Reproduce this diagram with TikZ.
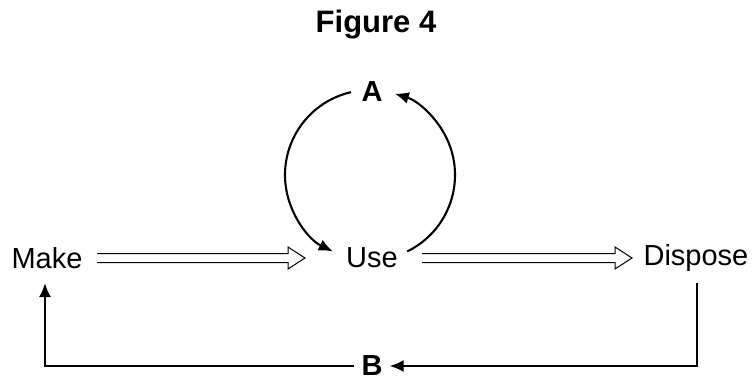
\documentclass[tikz,border=0pt]{standalone}
\usepackage{fontspec}
\setmainfont{Liberation Sans}
\usetikzlibrary{arrows.meta,calc}
\begin{document}
\begin{tikzpicture}[x=1pt,y=-1pt,
  lbl/.style={inner sep=0pt,font=\fontsize{29}{32}\selectfont},
  blbl/.style={inner sep=0pt,font=\fontsize{29}{32}\selectfont\bfseries},
  loopline/.style={line width=2.1pt,-{Latex[length=14pt,width=12pt]}},
  dbl/.style={line width=1pt,line join=miter}]
\useasboundingbox (0,0) rectangle (753,381);
\node[blbl,font=\fontsize{31}{34}\selectfont\bfseries] (title) at (376,25) {Figure 4};
\node[lbl] (make) at (47,258) {Make};
\node[lbl] (use) at (372,258) {Use};
\node[lbl] (dispose) at (696,258) {Dispose};
\node[blbl] (A) at (372,92) {A};
\node[blbl] (B) at (372,366) {B};
% circle arcs
\coordinate (cc) at (370,175);
\draw[loopline] ($(cc)+(103:85 and -85)$) arc[start angle=103,end angle=244,x radius=85,y radius=-85];
\draw[loopline] ($(cc)+(-64:85 and -85)$) arc[start angle=-64,end angle=73,x radius=85,y radius=-85];
% double arrows
\coordinate (m1) at (97,258);
\coordinate (u1) at (305,258);
\coordinate (u2) at (422,258);
\coordinate (d1) at (632,258);
\draw[dbl] ($(m1)+(0,-4.5)$) -- ($(u1)+(-17,-4.5)$) -- ($(u1)+(-17,-11)$) -- (u1) -- ($(u1)+(-17,11)$) -- ($(u1)+(-17,4.5)$) -- ($(m1)+(0,4.5)$);
\draw[dbl] ($(u2)+(0,-4.5)$) -- ($(d1)+(-17,-4.5)$) -- ($(d1)+(-17,-11)$) -- (d1) -- ($(d1)+(-17,11)$) -- ($(d1)+(-17,4.5)$) -- ($(u2)+(0,4.5)$);
% B loop
\coordinate (dtop) at (697,283);
\coordinate (mbot) at (45,283);
\draw[loopline] (dtop) -- (697,366) -- ($(B.east)+(7,0)$);
\draw[loopline] ($(B.west)+(-7,0)$) -- (45,366) -- (mbot);
\end{tikzpicture}
\end{document}
